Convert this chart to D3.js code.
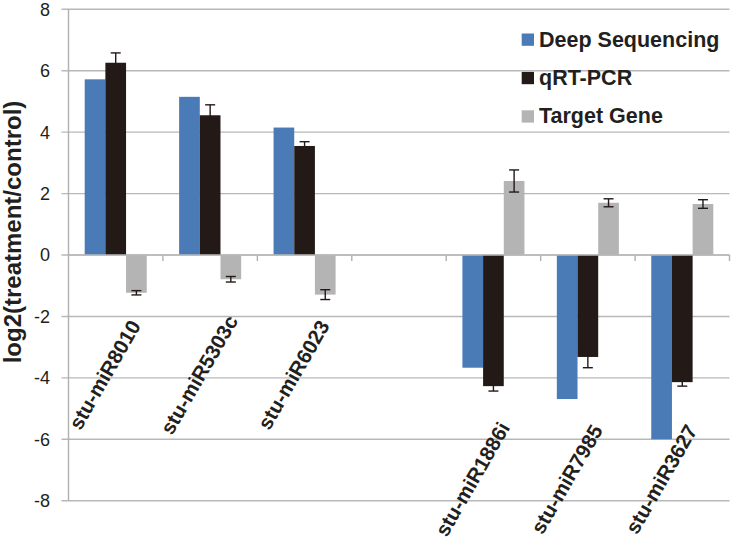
<!DOCTYPE html>
<html>
<head>
<meta charset="utf-8">
<script src="https://cdn.jsdelivr.net/npm/d3@7"></script>
<style>
  html, body { margin: 0; padding: 0; background: #ffffff; }
  svg { display: block; font-family: "Liberation Sans", Arial, Helvetica, sans-serif; }
</style>
</head>
<body>
<svg id="chart" width="732" height="541"></svg>
<script>
// ---- data ----
const categories = ["stu-miR8010", "stu-miR5303c", "stu-miR6023", "", "stu-miR1886i", "stu-miR7985", "stu-miR3627"];
const seriesNames = ["Deep Sequencing", "qRT-PCR", "Target Gene"];
const deepSeq   = [5.72, 5.15, 4.15, null, -3.67, -4.69, -6.00];
const qrtPcr    = [6.26, 4.55, 3.55, null, -4.27, -3.32, -4.14];
const qrtErr    = [0.32, 0.34, 0.14, null, 0.16, 0.35, 0.13];
const target    = [-1.23, -0.79, -1.29, null, 2.41, 1.70, 1.66];
const targetErr = [0.07, 0.09, 0.16, null, 0.36, 0.13, 0.14];
const yTicks = [-8, -6, -4, -2, 0, 2, 4, 6, 8];
const yTitle = "log2(treatment/control)";

// ---- layout ----
const colors = ["#4a7bb7", "#231a18", "#b4b4b4"];
const svg = d3.select("#chart");
const pLeft = 68.5, pRight = 729.5, pTop = 9.3, pBottom = 500.7;

const x = d3.scaleBand().domain(d3.range(categories.length)).range([pLeft, pRight]).padding(0);
const y = d3.scaleLinear().domain([-8, 8]).range([pBottom, pTop]);

const series = [deepSeq, qrtPcr, target];
const errs = [null, qrtErr, targetErr];

// gridlines
svg.append("g").selectAll("line").data(yTicks).join("line")
  .attr("x1", pLeft - 7).attr("x2", pRight)
  .attr("y1", d => y(d)).attr("y2", d => y(d))
  .attr("stroke", "#b8b8b8").attr("stroke-width", 1.4);

// y axis line
svg.append("line").attr("x1", pLeft).attr("x2", pLeft).attr("y1", pTop).attr("y2", pBottom)
  .attr("stroke", "#b0b0b0").attr("stroke-width", 1.4);

// y tick labels
svg.append("g").selectAll("text").data(yTicks).join("text")
  .attr("x", 50).attr("y", d => y(d)).attr("dy", "0.36em")
  .attr("text-anchor", "end").attr("font-size", 18).attr("fill", "#231f20")
  .text(d => d);

// category ticks at zero line
svg.append("g").selectAll("line").data(d3.range(1, categories.length + 1)).join("line")
  .attr("x1", i => pLeft + i * x.step()).attr("x2", i => pLeft + i * x.step())
  .attr("y1", y(0)).attr("y2", y(0) + 6)
  .attr("stroke", "#b0b0b0").attr("stroke-width", 1.4);

// bars
const barW = x.bandwidth() * 0.219;
const groupOff = (x.bandwidth() - 3 * barW) / 2;
series.forEach((vals, s) => {
  svg.append("g").selectAll("rect").data(vals.map((v, i) => ({v, i})).filter(d => d.v !== null)).join("rect")
    .attr("x", d => x(d.i) + groupOff + s * barW)
    .attr("width", barW)
    .attr("y", d => y(Math.max(0, d.v)))
    .attr("height", d => Math.abs(y(d.v) - y(0)))
    .attr("fill", colors[s]);
});

// zero line on top of bars
svg.append("line").attr("x1", pLeft).attr("x2", pRight).attr("y1", y(0)).attr("y2", y(0))
  .attr("stroke", "#b8b8b8").attr("stroke-width", 1.4);

// error bars
series.forEach((vals, s) => {
  if (!errs[s]) return;
  const g = svg.append("g").attr("stroke", "#231a18").attr("stroke-width", 1.4);
  vals.forEach((v, i) => {
    if (v === null) return;
    const e = errs[s][i];
    const cx = x(i) + groupOff + s * barW + barW / 2;
    g.append("line").attr("x1", cx).attr("x2", cx).attr("y1", y(v - e)).attr("y2", y(v + e));
    g.append("line").attr("x1", cx - 5).attr("x2", cx + 5).attr("y1", y(v + e)).attr("y2", y(v + e));
    g.append("line").attr("x1", cx - 5).attr("x2", cx + 5).attr("y1", y(v - e)).attr("y2", y(v - e));
  });
});

// category labels (rotated)
svg.append("g").selectAll("text").data(categories.map((c, i) => ({c, i})).filter(d => d.c !== "")).join("text")
  .attr("transform", d => {
    const cx = x(d.i) + x.bandwidth() / 2 + (d.i < 3 ? -11 : -21);
    const cy = d.i < 3 ? y(-3.9) : y(-7.3);
    return `translate(${cx},${cy}) rotate(-60)`;
  })
  .attr("text-anchor", "middle").attr("dy", "0.35em")
  .attr("font-size", 20.5).attr("font-weight", "bold").attr("fill", "#231f20")
  .text(d => d.c);

// y title
svg.append("text").attr("transform", "translate(13,232) rotate(-90)")
  .attr("text-anchor", "middle").attr("dy", "0.35em")
  .attr("font-size", 24).attr("font-weight", "bold").attr("fill", "#231f20")
  .text(yTitle);

// legend
const legend = svg.append("g");
seriesNames.forEach((name, s) => {
  const base = 46.5 + s * 38.4;
  legend.append("rect").attr("x", 521.7).attr("y", base - 13).attr("width", 12.3).attr("height", 12.3).attr("fill", colors[s]);
  legend.append("text").attr("x", 539).attr("y", base)
    .attr("font-size", 21.5).attr("font-weight", "bold").attr("fill", "#231f20").text(name);
});
</script>
</body>
</html>
